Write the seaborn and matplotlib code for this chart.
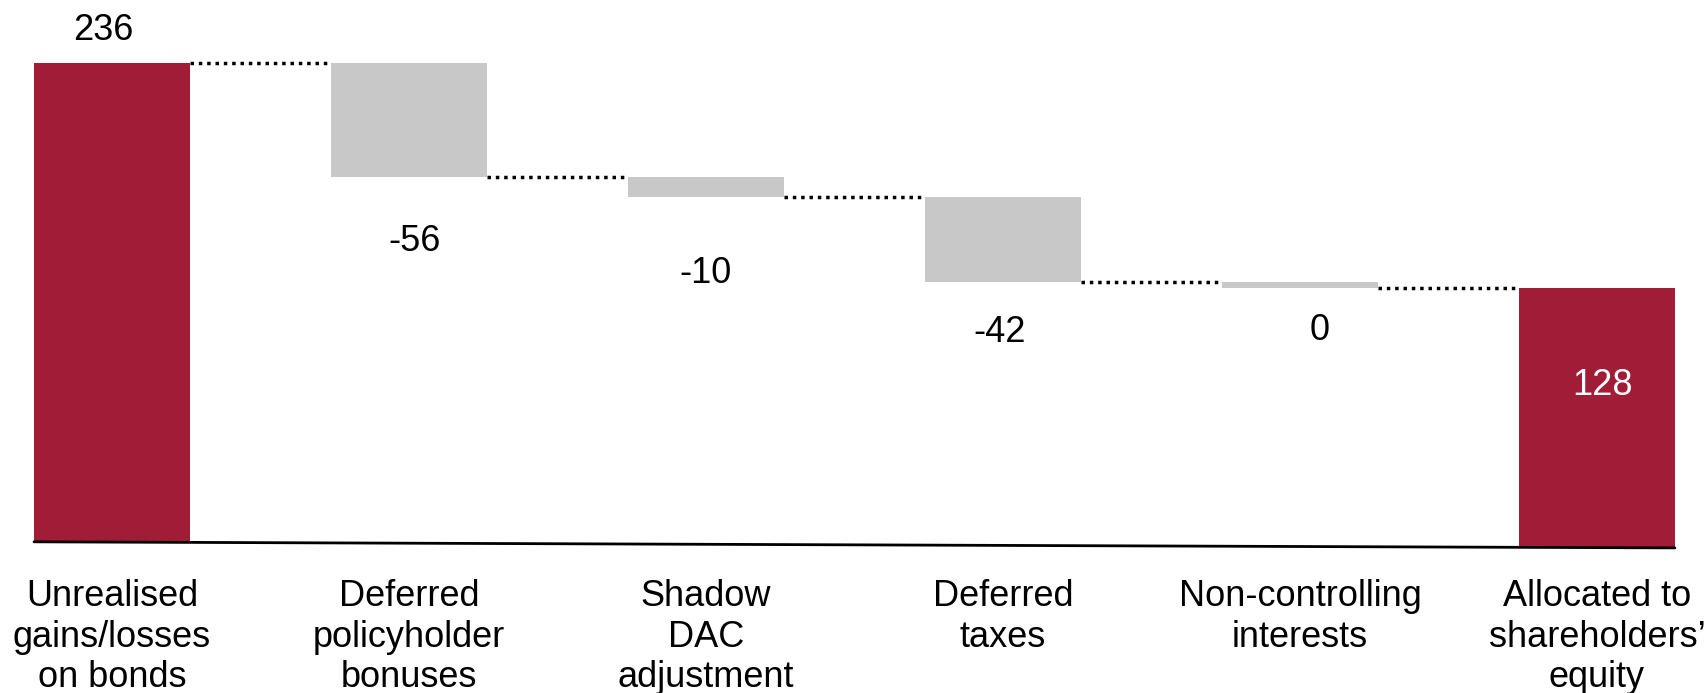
import numpy as np
import pandas as pd
import matplotlib.pyplot as plt
import seaborn as sns

# Waterfall data
categories = ["Unrealised\ngains/losses\non bonds", "Deferred\npolicyholder\nbonuses",
              "Shadow\nDAC\nadjustment", "Deferred\ntaxes",
              "Non-controlling\ninterests", "Allocated to\nshareholders’\nequity"]
values = [236, -56, -10, -42, 0, 128]
kinds = ["total", "step", "step", "step", "step", "total"]
value_labels = ["236", "-56", "-10", "-42", "0", "128"]

# Style
red = "#A11C37"
grey = "#C8C8C8"
min_h = 3          # smallest drawn step so a zero step stays visible
label_gap = [16, -32, -38, -25, -21, -48]
label_dx = [-0.03, 0.02, 0.0, -0.01, 0.066, 0.02]
bar_w = 0.525

# Floating bar geometry
bottoms, heights, levels = [], [], []
level = 0
for i, (v, k) in enumerate(zip(values, kinds)):
    if k == "total" and i == 0:
        b, h = 0, v
        level = v
    elif k == "total":
        b, h = level - v, v
    else:
        h = max(abs(v), min_h)
        b = level - h
        level = b
    bottoms.append(b)
    heights.append(h)
    levels.append(level)

df = pd.DataFrame({"pos": np.arange(len(values)), "height": heights, "bottom": bottoms})

sns.set_theme(style="white")
plt.rcParams["font.family"] = ["Liberation Sans", "DejaVu Sans"]

fig = plt.figure(figsize=(17.05, 6.93), dpi=100)
ax = fig.add_axes([0, 0.2006, 1, 0.7994])

sns.barplot(data=df, x="pos", y="height", bottom=df["bottom"].values, native_scale=True,
            width=bar_w, color=grey, saturation=1, ax=ax, linewidth=0)
for patch, k in zip(ax.patches, kinds):
    patch.set_facecolor(red if k == "total" else grey)

# dotted connectors
for i in range(len(values) - 1):
    ax.plot([i + bar_w / 2, i + 1 - bar_w / 2], [levels[i], levels[i]],
            color="black", lw=2.5, linestyle=(0, (1, 1.4)), dash_capstyle="butt")

# baseline
ax.plot([-bar_w / 2, len(values) - 1 + bar_w / 2], [0, bottoms[-1]], color="black", lw=2)

# value labels
for i, (k, txt) in enumerate(zip(kinds, value_labels)):
    if k == "total":
        anchor = bottoms[i] + heights[i]
    else:
        anchor = bottoms[i]
    col = "white" if (k == "total" and i > 0) else "black"
    ax.text(i + label_dx[i], anchor + label_gap[i], txt, ha="center", va="center",
            fontsize=26, color=col)

ax.set_xlim(-0.377, 5.364)
ax.set_ylim(-6, 267)
ax.set_xticks(range(len(values)))
ax.set_xticklabels(categories, fontsize=26, linespacing=1.21, color="black")
ax.tick_params(axis="x", length=0, pad=18)
ax.set_yticks([])
ax.set_xlabel("")
ax.set_ylabel("")
sns.despine(ax=ax, left=True, bottom=True)

fig.savefig("out.png", dpi=100)
